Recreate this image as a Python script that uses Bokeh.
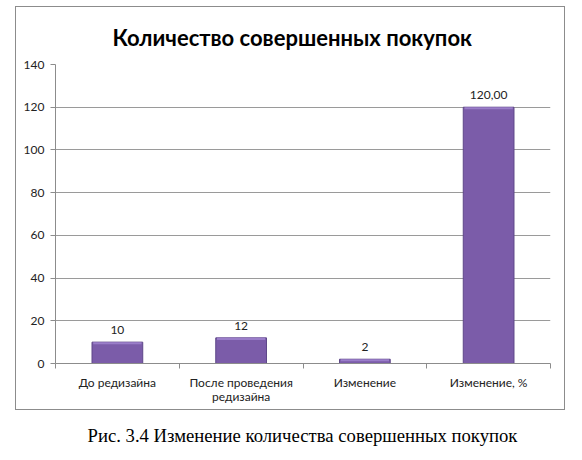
import numpy as np
from bokeh.plotting import figure
from bokeh.layouts import column
from bokeh.core.properties import value
from bokeh.models import Range1d, FixedTicker, ColumnDataSource, LabelSet, Title
from bokeh.embed import file_html
from bokeh.resources import INLINE

# data
categories = ["До редизайна", "После проведения\nредизайна", "Изменение", "Изменение, %"]
values = [10, 12, 2, 120]
value_labels = ["10", "12", "2", "120,00"]
y_ticks = [0, 20, 40, 60, 80, 100, 120, 140]

title = "Количество совершенных покупок"
caption = "Рис. 3.4 Изменение количества совершенных покупок"

centers = np.arange(len(categories)) + 0.5
bounds = np.arange(len(categories) + 1)

src = ColumnDataSource(dict(x=centers, top=values, lab=value_labels,
                            hi=np.array(values) - 1.0))

# the chart box (with its grey border)
p = figure(width=550, height=404, output_backend="svg", toolbar_location=None,
           x_range=Range1d(0, len(categories)), y_range=Range1d(0, 140),
           min_border_left=39, min_border_right=16, min_border_top=57, min_border_bottom=48,
           margin=(6, 0, 0, 15))
p.styles = {"border": "1px solid #8C8C8C"}
p.outline_line_color = None

p.add_layout(Title(text=title, align="left", offset=57, text_font="Lato",
                   text_font_style="bold", text_font_size="22px",
                   text_color="#000000", standoff=28), "above")

# bars, with a lighter strip on top for the bevel look
p.vbar(x="x", top="top", width=0.41, bottom=0, source=src,
       fill_color="#7B5CA9", line_color="#5E4788", line_width=1)
p.vbar(x="x", top="top", bottom="hi", width=0.39, source=src,
       fill_color="#9A7DC9", line_color=None)

# value labels over bars
p.add_layout(LabelSet(x="x", y="top", text="lab", source=src, y_offset=8,
                      text_align="center", text_baseline="bottom",
                      text_font=value("Lato"), text_font_size="12px", text_color="#222222"))

# x axis: labels at centres, tick marks at category borders
xa = p.xaxis[0]
xa.ticker = FixedTicker(ticks=list(centers), minor_ticks=list(bounds))
xa.major_label_overrides = {float(c): cat for c, cat in zip(centers, categories)}
xa.major_tick_in = 0
xa.major_tick_out = 0
xa.minor_tick_in = 0
xa.minor_tick_out = 5
xa.minor_tick_line_color = "#8C8C8C"
xa.axis_line_color = "#8C8C8C"
xa.major_label_text_font = "Lato"
xa.major_label_text_font_size = "12px"
xa.major_label_text_color = "#222222"
xa.major_label_text_line_height = 0.95
xa.major_label_standoff = 6
p.xgrid.visible = False

ya = p.yaxis[0]
ya.ticker = FixedTicker(ticks=y_ticks)
ya.major_tick_in = 0
ya.major_tick_out = 5
ya.minor_tick_out = 0
ya.minor_tick_in = 0
ya.major_tick_line_color = "#8C8C8C"
ya.axis_line_color = "#8C8C8C"
ya.major_label_text_font = "Lato"
ya.major_label_text_font_size = "12px"
ya.major_label_text_color = "#222222"
ya.major_label_standoff = 6
p.ygrid.ticker = FixedTicker(ticks=y_ticks)
p.ygrid.grid_line_color = "#9A9A9A"

# caption under the chart box
cap = figure(width=582, height=46, output_backend="svg", toolbar_location=None,
             min_border_top=35, min_border_bottom=0, min_border_left=0, min_border_right=0)
cap.add_layout(Title(text=caption, align="left", offset=48, text_font="Liberation Serif",
                     text_font_style="normal", text_font_size="18.7px",
                     text_color="#000000", standoff=0), "above")
cap.axis.visible = False
cap.grid.visible = False
cap.outline_line_color = None

layout = column(p, cap)
open("out.html", "w").write(file_html(layout, INLINE))
